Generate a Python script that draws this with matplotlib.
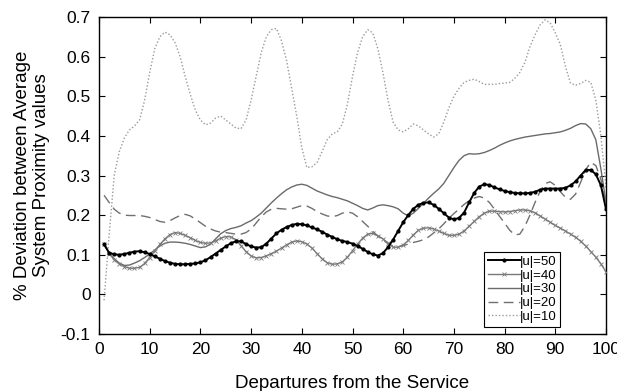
import numpy as np
import matplotlib
matplotlib.use("Agg")
import matplotlib.pyplot as plt

plt.rcParams['font.family'] = ['Liberation Sans', 'DejaVu Sans']

# departures 1..100
departures = list(range(1, 101))

u50 = [0.126, 0.105, 0.101, 0.100, 0.102, 0.105, 0.108, 0.109, 0.106, 0.102,
       0.096, 0.090, 0.084, 0.080, 0.077, 0.076, 0.076, 0.077, 0.078, 0.081,
       0.086, 0.094, 0.103, 0.112, 0.121, 0.129, 0.134, 0.134, 0.127, 0.121,
       0.118, 0.119, 0.128, 0.141, 0.154, 0.163, 0.170, 0.175, 0.178, 0.177,
       0.174, 0.169, 0.164, 0.158, 0.151, 0.145, 0.139, 0.135, 0.132, 0.128,
       0.122, 0.115, 0.107, 0.101, 0.098, 0.104, 0.119, 0.138, 0.160, 0.182,
       0.200, 0.216, 0.226, 0.231, 0.232, 0.226, 0.216, 0.205, 0.194, 0.189,
       0.193, 0.206, 0.232, 0.256, 0.272, 0.278, 0.276, 0.270, 0.265, 0.261,
       0.258, 0.256, 0.255, 0.255, 0.256, 0.259, 0.264, 0.267, 0.267, 0.267,
       0.267, 0.269, 0.275, 0.285, 0.300, 0.314, 0.314, 0.303, 0.275, 0.215]

u40 = [0.128, 0.103, 0.087, 0.077, 0.070, 0.066, 0.066, 0.068, 0.078, 0.093,
       0.110, 0.126, 0.140, 0.151, 0.156, 0.154, 0.149, 0.143, 0.136, 0.131,
       0.129, 0.130, 0.135, 0.142, 0.146, 0.145, 0.138, 0.123, 0.108, 0.097,
       0.092, 0.093, 0.097, 0.103, 0.109, 0.117, 0.125, 0.132, 0.135, 0.133,
       0.127, 0.117, 0.103, 0.090, 0.080, 0.076, 0.077, 0.082, 0.094, 0.110,
       0.127, 0.142, 0.152, 0.154, 0.148, 0.140, 0.130, 0.119, 0.119, 0.125,
       0.136, 0.150, 0.162, 0.167, 0.168, 0.165, 0.160, 0.154, 0.149, 0.149,
       0.152, 0.160, 0.172, 0.184, 0.196, 0.205, 0.210, 0.210, 0.209, 0.208,
       0.209, 0.211, 0.213, 0.213, 0.211, 0.206, 0.198, 0.190, 0.182, 0.174,
       0.167, 0.160, 0.152, 0.144, 0.134, 0.122, 0.108, 0.094, 0.077, 0.057]

u30 = [0.125, 0.105, 0.090, 0.079, 0.073, 0.074, 0.079, 0.085, 0.093, 0.102,
       0.112, 0.122, 0.129, 0.132, 0.132, 0.131, 0.129, 0.126, 0.122, 0.118,
       0.120, 0.127, 0.140, 0.153, 0.161, 0.166, 0.169, 0.173, 0.180, 0.186,
       0.195, 0.205, 0.218, 0.231, 0.243, 0.254, 0.264, 0.271, 0.276, 0.278,
       0.275, 0.268, 0.261, 0.256, 0.251, 0.247, 0.244, 0.240, 0.236, 0.230,
       0.224, 0.217, 0.213, 0.218, 0.224, 0.226, 0.224, 0.221, 0.216, 0.205,
       0.198, 0.205, 0.217, 0.230, 0.243, 0.255, 0.266, 0.280, 0.300, 0.320,
       0.338, 0.350, 0.355, 0.354, 0.355, 0.358, 0.363, 0.369, 0.376, 0.382,
       0.387, 0.391, 0.394, 0.397, 0.399, 0.401, 0.403, 0.405, 0.406, 0.408,
       0.410, 0.414, 0.419, 0.426, 0.431, 0.430, 0.418, 0.390, 0.316, 0.232]

u20 = [0.250, 0.232, 0.215, 0.205, 0.200, 0.199, 0.199, 0.199, 0.197, 0.194,
       0.189, 0.184, 0.182, 0.186, 0.193, 0.199, 0.202, 0.198, 0.190, 0.181,
       0.172, 0.165, 0.160, 0.157, 0.156, 0.154, 0.152, 0.152, 0.156, 0.165,
       0.180, 0.196, 0.208, 0.215, 0.217, 0.216, 0.215, 0.216, 0.220, 0.224,
       0.223, 0.217, 0.209, 0.203, 0.198, 0.196, 0.199, 0.205, 0.208, 0.205,
       0.196, 0.184, 0.172, 0.159, 0.147, 0.137, 0.128, 0.122, 0.120, 0.123,
       0.127, 0.131, 0.134, 0.138, 0.145, 0.155, 0.165, 0.178, 0.192, 0.204,
       0.215, 0.227, 0.236, 0.243, 0.247, 0.243, 0.232, 0.215, 0.197, 0.180,
       0.162, 0.150, 0.152, 0.172, 0.200, 0.232, 0.260, 0.280, 0.284, 0.275,
       0.259, 0.245, 0.240, 0.253, 0.283, 0.315, 0.333, 0.325, 0.290, 0.235]

u10 = [-0.015, 0.150, 0.300, 0.360, 0.395, 0.415, 0.425, 0.440, 0.490, 0.560,
       0.620, 0.650, 0.662, 0.655, 0.635, 0.600, 0.550, 0.505, 0.465, 0.440,
       0.428, 0.432, 0.445, 0.450, 0.440, 0.430, 0.420, 0.418, 0.440, 0.490,
       0.550, 0.610, 0.650, 0.668, 0.671, 0.640, 0.590, 0.520, 0.450, 0.370,
       0.320, 0.322, 0.333, 0.360, 0.390, 0.405, 0.410, 0.430, 0.480, 0.550,
       0.610, 0.650, 0.668, 0.660, 0.620, 0.560, 0.490, 0.435, 0.415, 0.410,
       0.418, 0.430, 0.425, 0.415, 0.405, 0.397, 0.405, 0.435, 0.470, 0.500,
       0.520, 0.535, 0.540, 0.543, 0.537, 0.530, 0.530, 0.530, 0.532, 0.533,
       0.535, 0.545, 0.560, 0.585, 0.625, 0.655, 0.680, 0.693, 0.685, 0.660,
       0.630, 0.575, 0.533, 0.528, 0.532, 0.540, 0.535, 0.490, 0.400, 0.270]

labels = ['|u|=50', '|u|=40', '|u|=30', '|u|=20', '|u|=10']

fig = plt.figure(figsize=(6.17, 3.91), dpi=100)
ax = fig.add_axes([99/617, 57/391, 507/617, 317/391])

ax.plot(departures, u50, color='black', lw=1.4, marker='.', markersize=4, label=labels[0], zorder=5)
ax.plot(departures, u40, color='#7a7a7a', lw=1.0, marker='x', markersize=3, markeredgewidth=0.6, label=labels[1], zorder=4)
ax.plot(departures, u30, color='#6a6a6a', lw=1.0, label=labels[2], zorder=3)
ax.plot(departures, u20, color='#707070', lw=1.0, ls=(0, (7, 4)), label=labels[3], zorder=3)
ax.plot(departures, u10, color='#9a9a9a', lw=1.0, ls=(0, (1, 1.5)), label=labels[4], zorder=2)

ax.set_xlim(0, 100)
ax.set_ylim(-0.1, 0.7)
ax.set_xticks(range(0, 101, 10))
ax.set_yticks(np.arange(-0.1, 0.71, 0.1))
ax.set_yticklabels(['-0.1', '0', '0.1', '0.2', '0.3', '0.4', '0.5', '0.6', '0.7'])
ax.tick_params(direction='in', top=True, right=True, length=4, labelsize=12.5, pad=6)
for s in ax.spines.values():
    s.set_linewidth(1.0)

ax.set_xlabel('Departures from the Service', fontsize=13.5, labelpad=13)
ax.set_ylabel('% Deviation between Average\nSystem Proximity values', fontsize=13.5,
              labelpad=8, linespacing=1.15)

leg = ax.legend(loc='lower right', bbox_to_anchor=(0.91, 0.022), fontsize=9.5,
                fancybox=False, edgecolor='black', framealpha=1,
                handlelength=2.4, handletextpad=0.0, labelspacing=0.12,
                borderpad=0.3, borderaxespad=0.0)
leg.get_frame().set_linewidth(0.8)

fig.savefig('out.png', dpi=100)
